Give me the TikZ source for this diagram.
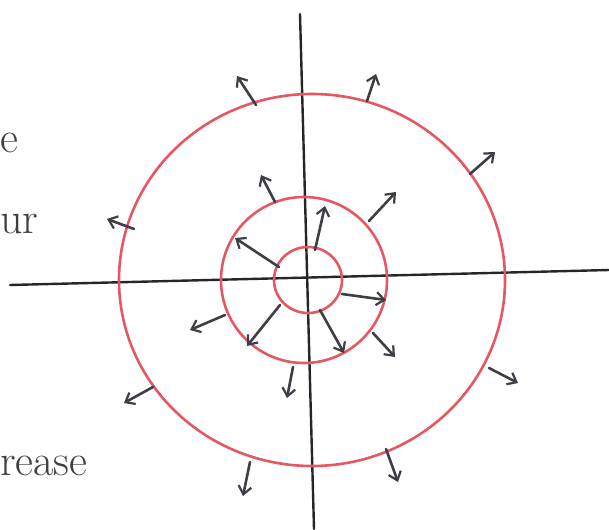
\documentclass[tikz,border=0pt]{standalone}
\usepackage{tikz}
\usetikzlibrary{arrows.meta}
\definecolor{penred}{RGB}{228,88,98}
\definecolor{pengray}{RGB}{62,62,70}
\tikzset{ring/.style={penred,line width=2.6pt},
  field/.style={pengray,line width=2.6pt,-{Straight Barb[length=8pt,width=13pt,line width=2.2pt]}},
  note/.style={pengray,inner sep=0pt,anchor=base west,font=\fontsize{44}{50}\selectfont}}

\begin{document}
\begin{tikzpicture}[x=1pt,y=-1pt,line cap=round,line join=round]
\useasboundingbox (0,0) rectangle (609,529);
% --- axes
\draw[line width=2.4pt,black!85] (10,285) -- (609,270);
\draw[line width=2.4pt,black!85] (300,14) -- (314,529);
% --- equipotential rings
\draw[ring] (312,280) ellipse[x radius=193,y radius=186];
\draw[ring] (304,280) ellipse[x radius=83,y radius=83];
\draw[ring] (308,280) ellipse[x radius=34,y radius=33];
% --- field arrows, outer ring
\foreach \a/\b/\c/\d in {256/105/237/76, 367/101/376/74, 470/174/495/152, 134/229/107/219,
  153/387/124/403, 250/462/243/496, 386/449/398/482, 489/368/518/383}
  \draw[field] (\a,\b) -- (\c,\d);
% --- field arrows, middle ring
\foreach \a/\b/\c/\d in {275/202/261/175, 369/221/396/192, 225/315/190/330,
  373/333/395/357, 293/367/287/398}
  \draw[field] (\a,\b) -- (\c,\d);
% --- field arrows, inner ring
\foreach \a/\b/\c/\d in {315/250/325/206, 279/267/235/238, 342/294/386/300,
  280/305/247/346, 320/310/344/353}
  \draw[field] (\a,\b) -- (\c,\d);
% --- margin words
\node[note] (w1) at (0,153) {e};
\node[note] (w2) at (0,233) {ur};
\node[note] (w3) at (0,475) {rease};
\end{tikzpicture}
\end{document}
